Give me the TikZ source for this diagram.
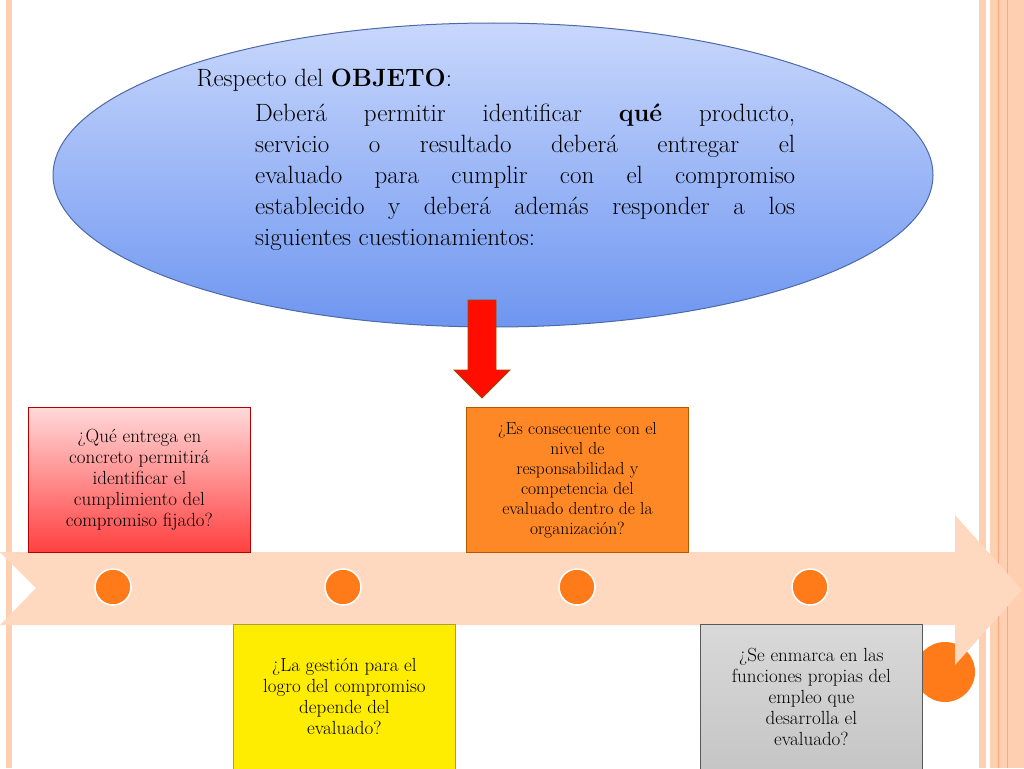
\documentclass[tikz,border=0pt]{standalone}
\definecolor{elltop}{RGB}{200,215,252}
\definecolor{ellbot}{RGB}{110,150,240}
\newcommand{\jline}[1]{\makebox[540pt][s]{#1}\\}
\begin{document}
\begin{tikzpicture}[x=1pt,y=-1pt,
  qbox/.style={draw=#1!70!black,line width=0.8pt,minimum width=222pt,minimum height=145pt,inner sep=0pt,anchor=north west,align=center,font=\fontsize{19}{21}\selectfont},
  dot/.style={circle,fill=orange!85!red!90,draw=white,line width=1.5pt,minimum size=36pt,inner sep=0pt}]
\useasboundingbox (0,0) rectangle (1024,768);
% borders
\fill[red!25!orange!30] (6,0) rectangle (12,768);
\fill[red!25!orange!30] (979,0) rectangle (986,768);
\fill[red!25!orange!30] (990,0) rectangle (1024,768);
\draw[red!40!orange!50,line width=0.8pt] (998,0) -- (998,768) (1007,0) -- (1007,768);
% big circle
\node[circle,fill=orange!85!red!90,minimum size=60pt] (bc) at (945,672) {};
% ellipse
\shade[top color=elltop,bottom color=ellbot,draw=ellbot!70!black,line width=1pt] (493,175) ellipse [x radius=440,y radius=152];
\node[anchor=west,font=\fontsize{25}{31}\selectfont] (t1) at (193,80) {Respecto del \textbf{OBJETO}:};
\node[anchor=north west,align=left,inner sep=0pt,font=\fontsize{25}{31}\selectfont] (t2) at (255,104) {\jline{Deberá permitir identificar \textbf{qué} producto,}\jline{servicio o resultado deberá entregar el}\jline{evaluado para cumplir con el compromiso}\jline{establecido y deberá además responder a los}siguientes cuestionamientos:};
% red arrow
\fill[red!90!orange,draw=orange!60!black,line width=0.8pt] (468,300) -- (496,300) -- (496,370) -- (510,370) -- (482,398) -- (454,370) -- (468,370) -- cycle;
% timeline
\fill[red!20!orange!25] (0,552) -- (955,552) -- (955,515) -- (1022,590) -- (955,665) -- (955,625) -- (0,625) -- (36,588) -- cycle;
\foreach \x/\n in {113/a,343/b,577/c,810/d} \node[dot] (\n) at (\x,587) {};
% boxes
\node[qbox=red,top color=red!15,bottom color=red!75] (q1) at (28,407) {¿Qué entrega en\\concreto permitirá\\identificar el\\cumplimiento del\\compromiso fijado?};
\node[qbox=orange,fill=orange!90!red!85,font=\fontsize{17.5}{20}\selectfont] (q2) at (466,407) {¿Es consecuente con el\\nivel de\\responsabilidad y\\competencia del\\evaluado dentro de la\\organización?};
\node[qbox=yellow,fill=yellow!95!orange,draw=yellow!60!black] (q3) at (233,624) {¿La gestión para el\\logro del compromiso\\depende del\\evaluado?};
\node[qbox=gray,top color=gray!30,bottom color=gray!45,draw=gray!70!black] (q4) at (700,624) {¿Se enmarca en las\\funciones propias del\\empleo que\\desarrolla el\\evaluado?};
\end{tikzpicture}
\end{document}
